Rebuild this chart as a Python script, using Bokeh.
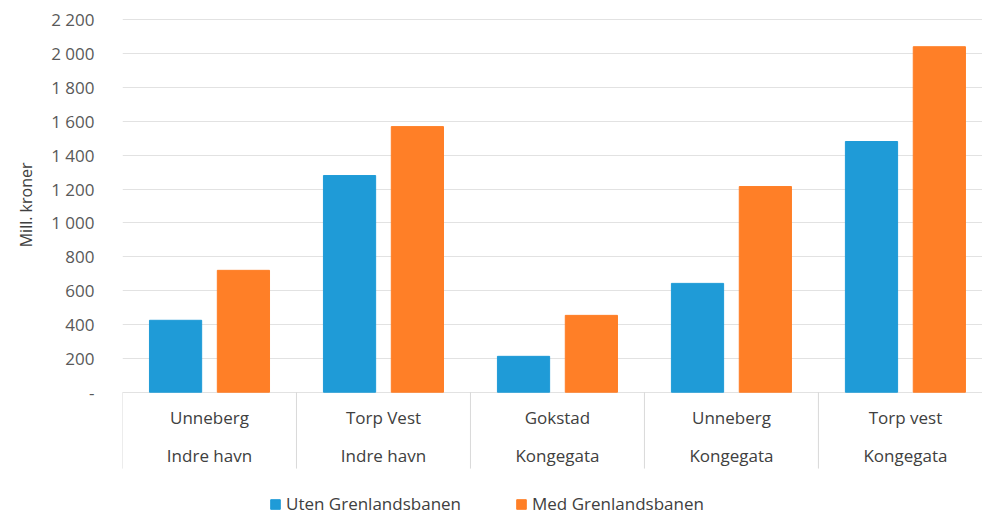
import numpy as np
from bokeh.plotting import figure
from bokeh.models import Range1d, FixedTicker, Legend, LegendItem, Title
from bokeh.core.properties import value
from bokeh.embed import file_html
from bokeh.resources import INLINE

# ---- data ----
line1 = ["Unneberg", "Torp Vest", "Gokstad", "Unneberg", "Torp vest"]
line2 = ["Indre havn", "Indre havn", "Kongegata", "Kongegata", "Kongegata"]
uten = [425, 1280, 212, 643, 1481]
med = [720, 1569, 454, 1215, 2041]
series_names = ["Uten Grenlandsbanen", "Med Grenlandsbanen"]
y_ticks = list(range(0, 2201, 200))
y_title = "Mill. kroner"

BLUE = "#1F9BD7"
ORANGE = "#FF7F27"
FONT = "Open Sans"

p = figure(width=982, height=517, output_backend="svg", toolbar_location=None,
           x_range=Range1d(0, 4.943), y_range=Range1d(-740, 2314),
           x_axis_location=None, min_border_left=122, min_border_right=0,
           min_border_top=0, min_border_bottom=0, outline_line_color=None)

# y axis
p.yaxis.ticker = FixedTicker(ticks=y_ticks)
p.yaxis.major_label_overrides = {t: ("-" if t == 0 else f"{t:,}".replace(",", " ")) for t in y_ticks}
p.yaxis.axis_line_color = None
p.yaxis.major_tick_line_color = None
p.yaxis.minor_tick_line_color = None
p.yaxis.major_label_standoff = 22
p.yaxis.major_label_text_font = FONT
p.yaxis.major_label_text_font_size = "17px"
p.yaxis.major_label_text_color = "#595959"

p.xgrid.visible = False
p.ygrid.ticker = FixedTicker(ticks=y_ticks)
p.ygrid.grid_line_color = "#e2e2e2"
p.ygrid.grid_line_width = 1

x = np.arange(len(line1)) + 0.5
r1 = p.vbar(x=x - 0.195, top=uten, width=0.3, color=BLUE)
r2 = p.vbar(x=x + 0.195, top=med, width=0.3, color=ORANGE)

# category separators
xs = np.arange(len(line1) + 1)
p.segment(x0=xs, y0=0, x1=xs, y1=-451, line_color="#d9d9d9", line_width=1)

# two-line category labels
p.text(x=x, y=-149, text=line1, text_align="center", text_baseline="middle",
       text_font=value(FONT), text_font_size="17px", text_color="#404040")
p.text(x=x, y=-374, text=line2, text_align="center", text_baseline="middle",
       text_font=value(FONT), text_font_size="17px", text_color="#404040")

# y title
p.add_layout(Title(text=y_title, align="right", offset=162, standoff=24,
                   text_font=FONT, text_font_size="16px", text_font_style="normal",
                   text_color="#404040"), "left")

legend = Legend(items=[LegendItem(label=series_names[0], renderers=[r1]),
                       LegendItem(label=series_names[1], renderers=[r2])],
                orientation="horizontal", location=(147, 2), padding=0, margin=0,
                border_line_color=None, background_fill_alpha=0,
                label_text_font=FONT, label_text_font_size="17px",
                label_text_color="#404040",
                glyph_width=12, glyph_height=12, label_height=16,
                label_standoff=5, spacing=54)
p.add_layout(legend)

open("out.html", "w").write(file_html(p, INLINE))
